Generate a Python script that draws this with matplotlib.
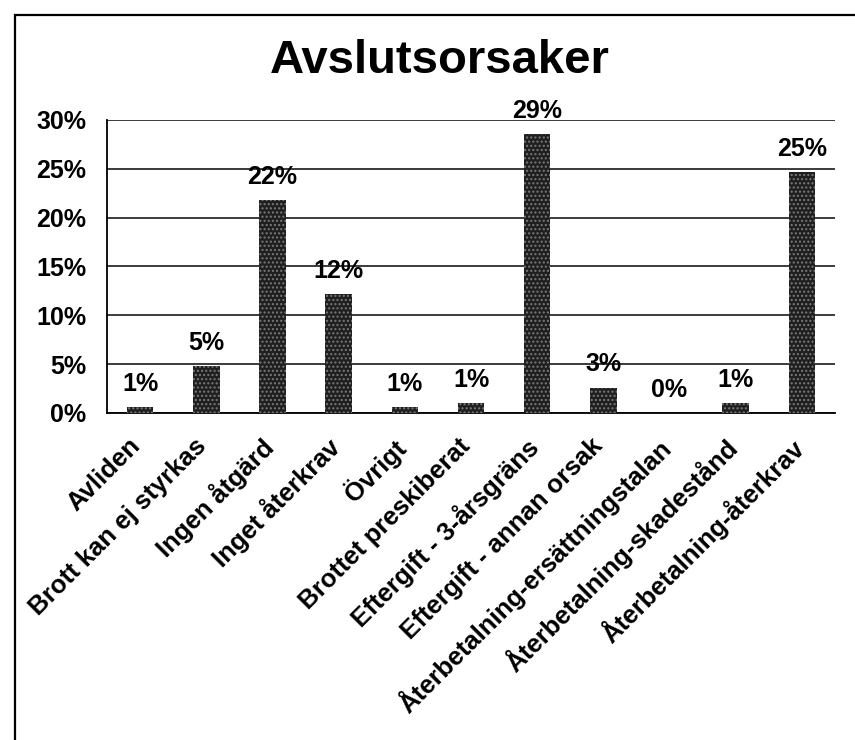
import matplotlib.pyplot as plt
from matplotlib.patches import Rectangle
from matplotlib.transforms import ScaledTranslation
import numpy as np

plt.rcParams['font.family'] = ['Liberation Sans', 'DejaVu Sans']

# Avslutsorsaker – andel (%) per orsak
categories = [
    "Avliden",
    "Brott kan ej styrkas",
    "Ingen åtgärd",
    "Inget återkrav",
    "Övrigt",
    "Brottet preskiberat",
    "Eftergift - 3-årsgräns",
    "Eftergift - annan orsak",
    "Återbetalning-ersättningstalan",
    "Återbetalning-skadestånd",
    "Återbetalning-återkrav",
]
shares = [0.6, 4.8, 21.8, 12.2, 0.6, 1.0, 28.6, 2.6, 0.0, 1.0, 24.7]
y_ticks = [0, 5, 10, 15, 20, 25, 30]

fig = plt.figure(figsize=(8.55, 7.4), dpi=100)
ax = fig.add_axes([107 / 855, 1 - 413 / 740, 728 / 855, 293 / 740])

# ram runt hela diagrammet (som i originalet)
fig.add_artist(Rectangle((15 / 855, -0.2), 1.2, 1.2 - 15 / 740,
                         transform=fig.transFigure, fill=False,
                         edgecolor="black", linewidth=1.6))

x = np.arange(len(categories))
ax.bar(x, shares, 0.4, color="#1f1f1f", edgecolor="#7a7a7a",
       hatch="....", linewidth=0, zorder=3)

for xi, v in zip(x, shares):
    ax.annotate(f"{v:.0f}%", (xi, v), xytext=(0, 8), textcoords="offset points",
                ha="center", va="bottom", fontsize=18, fontweight="bold",
                annotation_clip=False, zorder=4)

ax.set_xlim(-0.5, len(categories) - 0.5)
ax.set_ylim(0, 30)
ax.set_yticks(y_ticks, [f"{t}%" for t in y_ticks])
ax.yaxis.grid(True, color="#1a1a1a", linewidth=1.2, zorder=0)
ax.set_axisbelow(True)

for s in ["top", "right"]:
    ax.spines[s].set_visible(False)
ax.spines["left"].set_linewidth(1.3)
ax.spines["bottom"].set_linewidth(1.3)

ax.tick_params(axis="y", length=0, pad=15, labelsize=18)
for lab in ax.get_yticklabels():
    lab.set_fontweight("bold")

ax.set_xticks(x, categories, rotation=45, ha="right", rotation_mode="anchor")
ax.tick_params(axis="x", length=0, pad=13, labelsize=18.5)
shift = ScaledTranslation(-9 / 72, -2 / 72, fig.dpi_scale_trans)
for lab in ax.get_xticklabels():
    lab.set_fontweight("bold")
    lab.set_transform(lab.get_transform() + shift)

fig.text(440 / 855, 1 - 61 / 740, "Avslutsorsaker", ha="center", va="center",
         fontsize=34, fontweight="bold")

fig.savefig("out.png", dpi=100)
